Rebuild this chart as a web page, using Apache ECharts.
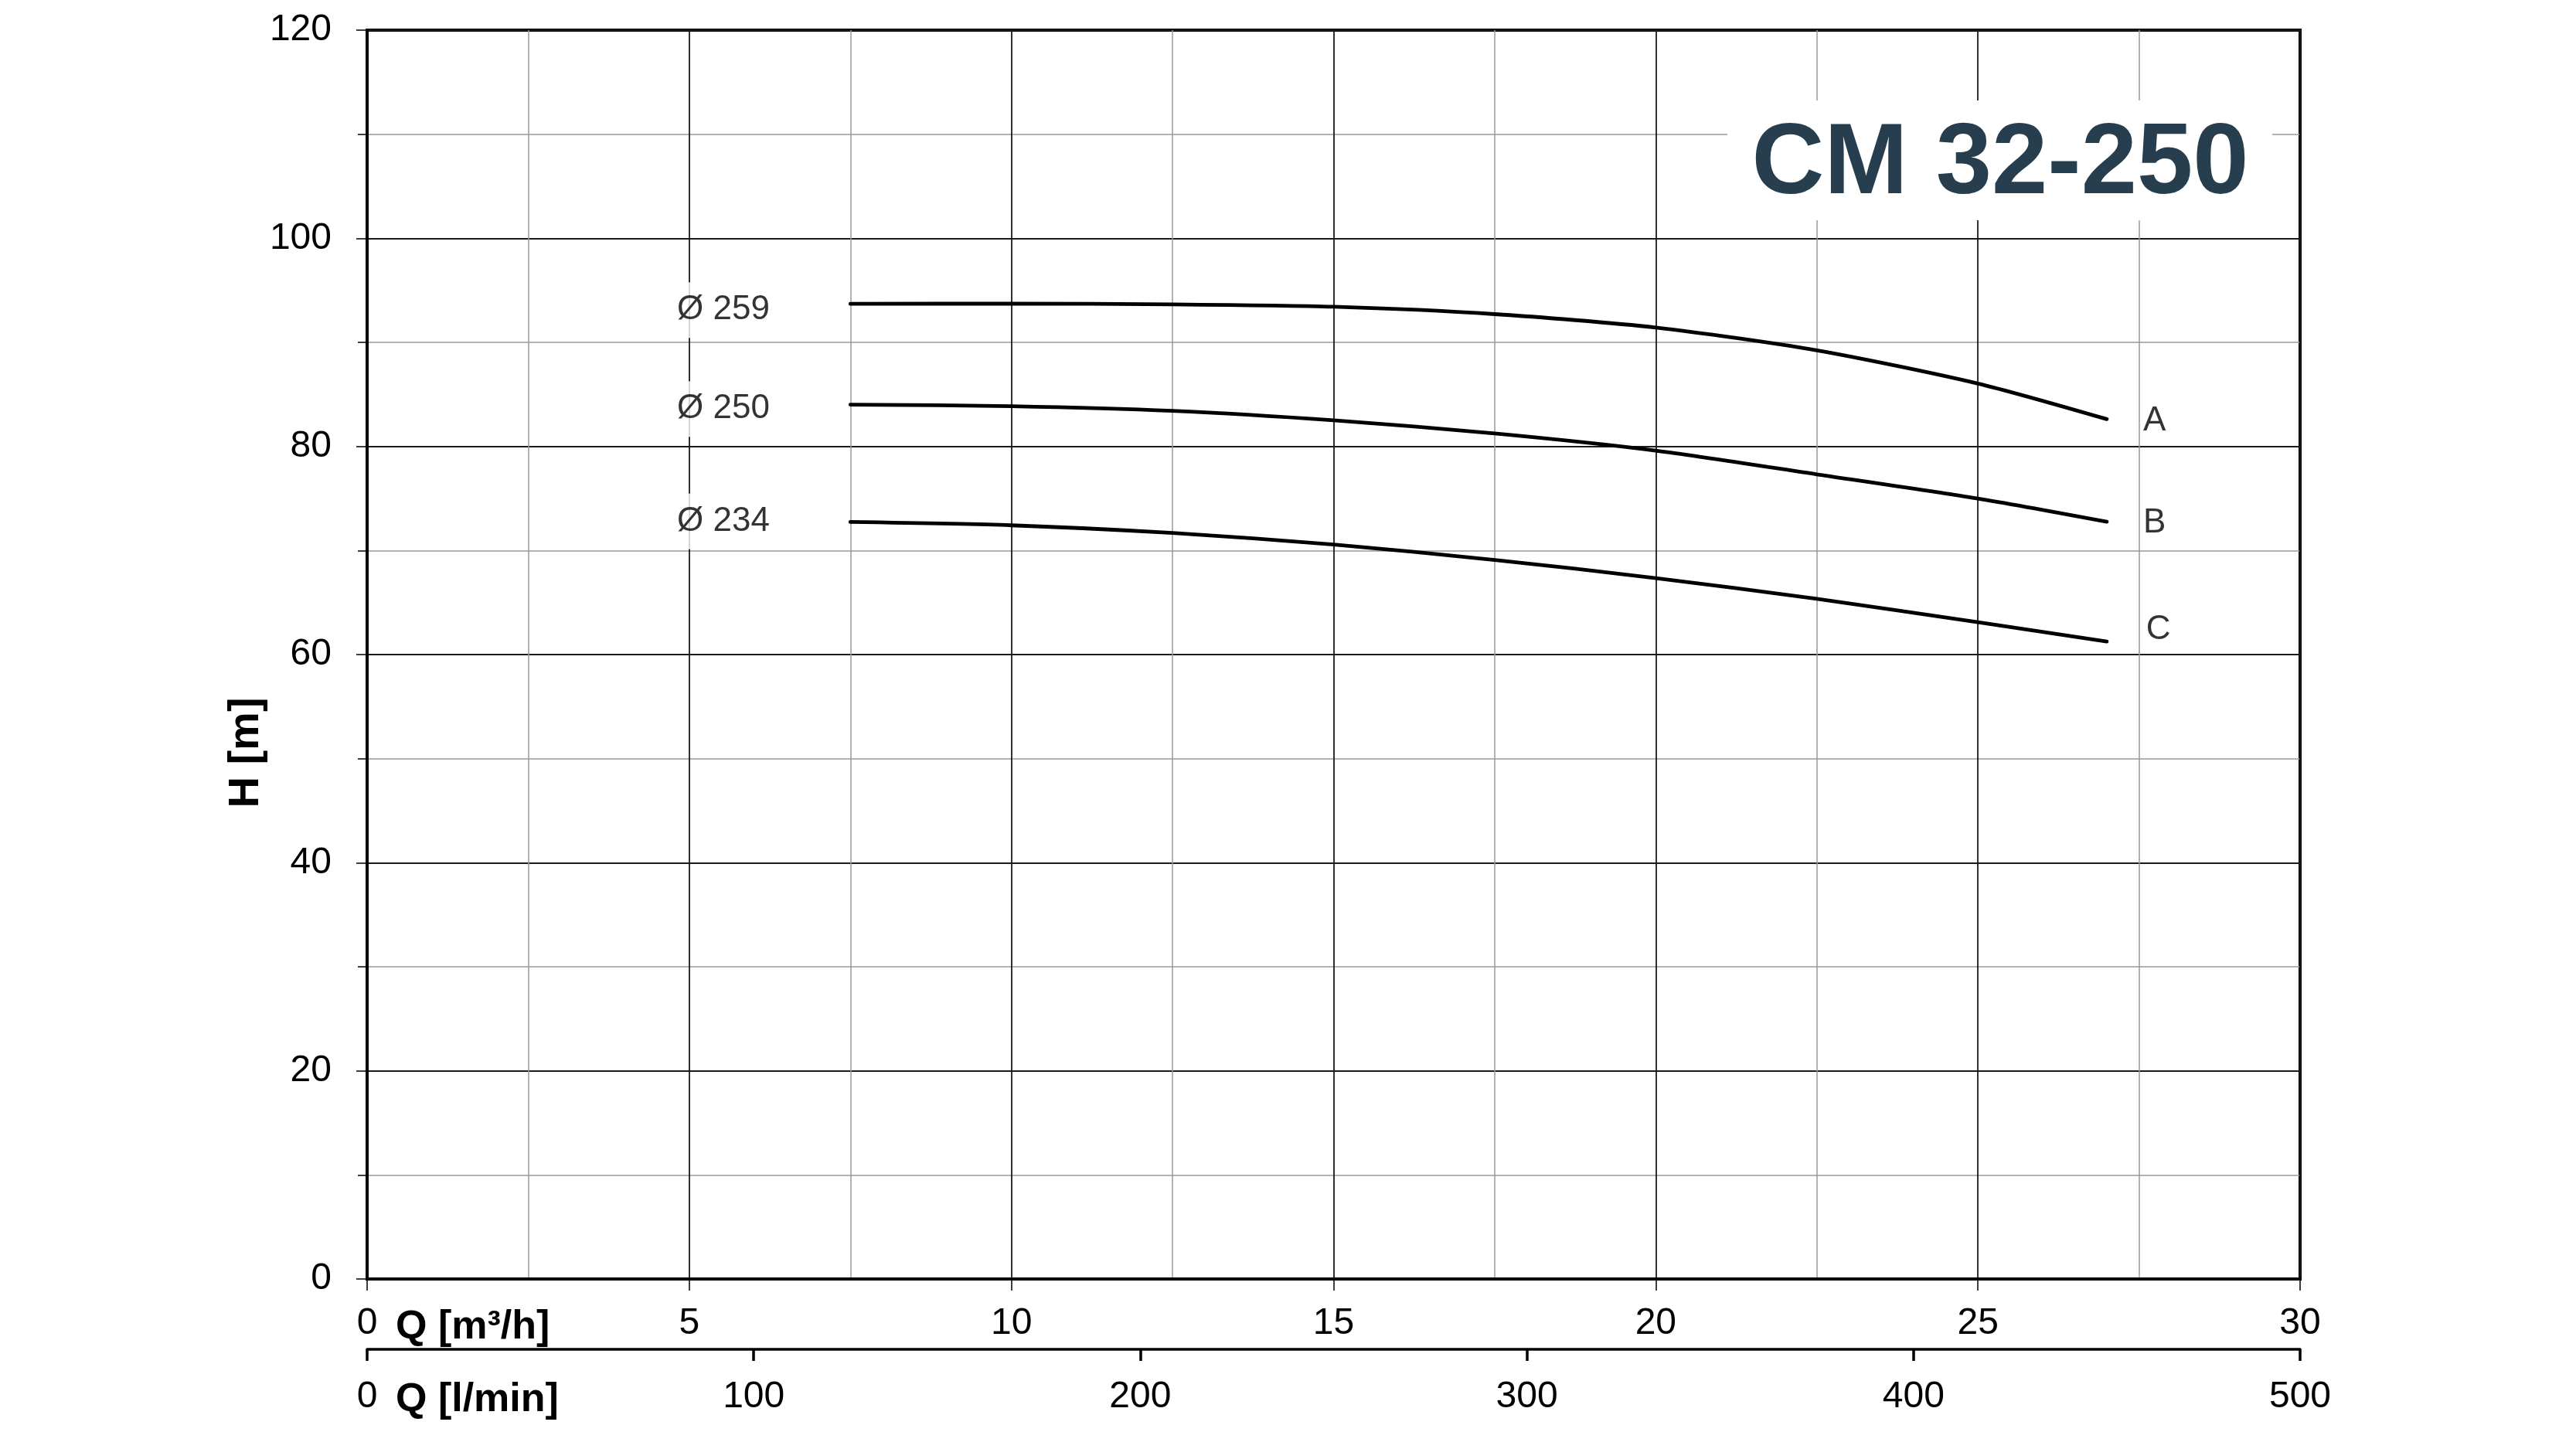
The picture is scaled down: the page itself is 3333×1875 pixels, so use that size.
<!DOCTYPE html>
<html>
<head>
<meta charset="utf-8">
<script src="https://cdn.jsdelivr.net/npm/echarts@6/dist/echarts.min.js"></script>
<style>
html,body{margin:0;padding:0;background:#fff;}
#chart{width:3333px;height:1875px;}
</style>
</head>
<body>
<div id="chart"></div>
<script>
// Flow Q [m3/h] sample points shared by the impeller curves
const qPts = [7.5, 10, 12.5, 15, 17.5, 20, 22.5, 25, 27];
const hA = [93.70, 93.72, 93.65, 93.42, 92.71, 91.42, 89.23, 86.04, 82.62];
const hB = [84.02, 83.87, 83.42, 82.51, 81.25, 79.60, 77.32, 74.99, 72.76];
const hC = [72.74, 72.42, 71.68, 70.57, 69.09, 67.35, 65.36, 63.11, 61.25];

// diameter labels
const diaNames = ['Ø 259', 'Ø 250', 'Ø 234'];
const diaQ = [5.53, 5.53, 5.53];
const diaH = [93.1, 83.6, 72.8];

// curve letter labels
const curveNames = ['A', 'B', 'C'];
const curveQ = [27.74, 27.74, 27.80];
const curveH = [82.4, 72.6, 62.4];

const titleText = 'CM 32-250';
const yName = 'H [m]';
const x1Name = 'Q [m³/h]';
const x2Name = 'Q [l/min]';

const FONT = '"Liberation Sans", Arial, sans-serif';
const pairs = (xs, ys) => xs.map((x, i) => [x, ys[i]]);

const chart = echarts.init(document.getElementById('chart'), null, {renderer: 'canvas'});

const lineStyle = {color: '#000', width: 4.8, cap: 'round'};
const mkLine = (xs, ys) => ({
  type: 'line', xAxisIndex: 0, yAxisIndex: 0,
  data: pairs(xs, ys), smooth: 0.25,
  symbol: 'none', lineStyle: lineStyle, silent: true, z: 5
});

chart.setOption({
  animation: false,
  backgroundColor: '#fff',
  grid: {left: 475, right: 357, top: 39, bottom: 220, show: true,
         borderColor: '#000', borderWidth: 4, backgroundColor: 'transparent'},
  xAxis: [
    {type: 'value', min: 0, max: 30, interval: 5, position: 'bottom', gridIndex: 0,
     axisLine: {show: true, onZero: false, lineStyle: {color: '#000', width: 4}},
     axisTick: {show: true, inside: false, length: 15, lineStyle: {color: '#000', width: 1.5}},
     minorTick: {show: false, splitNumber: 2},
     splitLine: {show: true, lineStyle: {color: '#1a1a1a', width: 1.8}},
     minorSplitLine: {show: true, lineStyle: {color: '#999', width: 1.5}},
     axisLabel: {show: true, color: '#000', fontSize: 48, fontFamily: FONT, margin: 34}
    },
    {type: 'value', min: 0, max: 500, interval: 100, position: 'bottom', offset: 91, gridIndex: 0,
     axisLine: {show: true, onZero: false, lineStyle: {color: '#000', width: 3.5}},
     axisTick: {show: true, inside: false, length: 15, lineStyle: {color: '#000', width: 3.5}},
     splitLine: {show: false},
     axisLabel: {show: true, color: '#000', fontSize: 48, fontFamily: FONT, margin: 38}
    }
  ],
  yAxis: [
    {type: 'value', min: 0, max: 120, interval: 20, position: 'left',
     axisLine: {show: true, onZero: false, lineStyle: {color: '#000', width: 4}},
     axisTick: {show: true, inside: false, length: 14, lineStyle: {color: '#000', width: 1.5}},
     minorTick: {show: true, splitNumber: 2, length: 12, lineStyle: {color: '#000', width: 1.5}},
     splitLine: {show: true, lineStyle: {color: '#1a1a1a', width: 1.8}},
     minorSplitLine: {show: true, lineStyle: {color: '#999', width: 1.5}},
     axisLabel: {show: true, color: '#000', fontSize: 48, fontFamily: FONT, margin: 46}
    }
  ],
  series: [
    mkLine(qPts, hA),
    mkLine(qPts, hB),
    mkLine(qPts, hC),
    {type: 'scatter', xAxisIndex: 0, yAxisIndex: 0, symbolSize: 0, silent: true, z: 6,
     data: diaNames.map((n, i) => ({name: n, value: [diaQ[i], diaH[i]]})),
     label: {show: true, position: 'inside', formatter: p => p.name, color: '#000',
             fontSize: 44, fontFamily: FONT, backgroundColor: '#fff', padding: [14, 6]}
    },
    {type: 'scatter', xAxisIndex: 0, yAxisIndex: 0, symbolSize: 0, silent: true, z: 6,
     data: curveNames.map((n, i) => ({name: n, value: [curveQ[i], curveH[i]]})),
     label: {show: true, position: 'inside', formatter: p => p.name, color: '#000',
             fontSize: 44, fontFamily: FONT}
    }
  ],
  graphic: [
    {type: 'rect', z: 20, shape: {x: 2235, y: 130, width: 705, height: 155},
     style: {fill: '#fff'}},
    {type: 'text', z: 21, x: 2588, y: 214,
     style: {text: titleText, fill: '#263e4d', font: 'bold 130px ' + FONT,
             align: 'center', verticalAlign: 'middle'}},
    {type: 'text', z: 21, x: 319, y: 974, rotation: Math.PI / 2,
     style: {text: yName, fill: '#000', font: 'bold 56px ' + FONT,
             align: 'center', verticalAlign: 'middle'}},
    {type: 'text', z: 21, x: 512, y: 1718,
     style: {text: x1Name, fill: '#000', font: 'bold 52px ' + FONT,
             align: 'left', verticalAlign: 'middle'}},
    {type: 'text', z: 21, x: 512, y: 1812,
     style: {text: x2Name, fill: '#000', font: 'bold 52px ' + FONT,
             align: 'left', verticalAlign: 'middle'}}
  ]
});
</script>
</body>
</html>
